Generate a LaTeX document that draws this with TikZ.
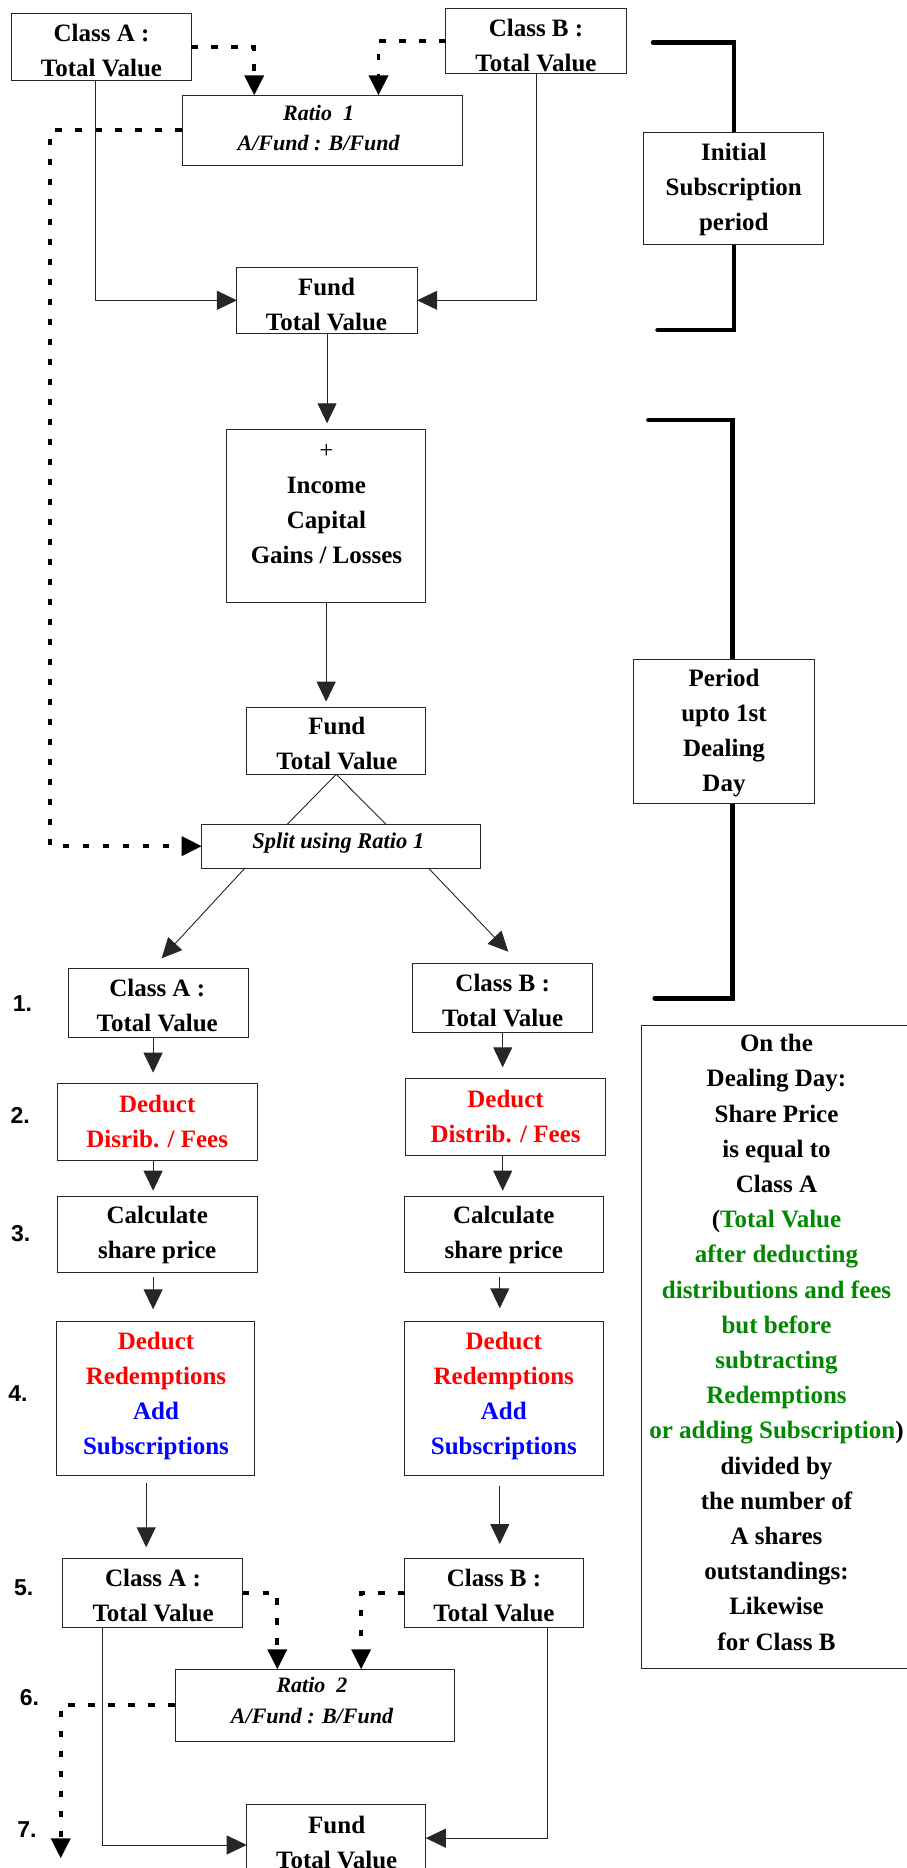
\documentclass[tikz,border=0pt]{standalone}
\usepackage{fontspec}
\setmainfont{Liberation Serif}
\setsansfont{Liberation Sans}
\usetikzlibrary{arrows.meta,calc}
\definecolor{dgreen}{RGB}{0,136,0}
\definecolor{dred}{RGB}{255,0,0}
\definecolor{dblue}{RGB}{0,0,255}
\begin{document}
\begin{tikzpicture}[x=1pt,y=-1pt,
  box/.style={draw=black!85, line width=1pt, fill=white, anchor=north west, inner sep=0pt, outer sep=0pt},
  txt/.style={font=\fontsize{25}{35}\selectfont\bfseries, align=center, inner sep=0pt},
  itxt/.style={font=\fontsize{22}{30.5}\selectfont\bfseries\itshape, align=center, inner sep=0pt},
  num/.style={font=\fontsize{23}{23}\selectfont\sffamily\bfseries, inner sep=0pt},
  con/.style={line width=0.9pt, draw=black!85},
  arr/.style={-{Triangle[length=20pt,width=19pt]}},
  dots/.style={line width=3.8pt, dash pattern=on 6.7pt off 13.3pt},
  brk/.style={line width=4.5pt, line cap=round, line join=miter}
]
\useasboundingbox (0,0) rectangle (906,1868);

% brackets
\draw[brk] (653,42.7) -- (733.8,42.7) -- (733.8,330) -- (657.5,330);
\draw[brk] (648.3,420) -- (732.7,420) -- (732.7,998.3) -- (654.7,998.3);

% boxes
\node[box, minimum width=179.7pt, minimum height=67pt] (a0) at (11.6,13.3) {};
\node[box, minimum width=180.8pt, minimum height=65pt] (b0) at (445.5,8.3) {};
\node[box, minimum width=280.2pt, minimum height=70pt] (r1) at (182,95.3) {};
\node[box, minimum width=179.7pt, minimum height=112pt] (init) at (643.7,132.3) {};
\node[box, minimum width=180.3pt, minimum height=66pt] (f1) at (236.9,267.3) {};
\node[box, minimum width=199.3pt, minimum height=173pt] (inc) at (226.5,429.3) {};
\node[box, minimum width=180.8pt, minimum height=144pt] (per) at (633.3,659) {};
\node[box, minimum width=179.1pt, minimum height=67pt] (f2) at (246.7,707.3) {};
\node[box, minimum width=279pt, minimum height=43.7pt] (sp) at (201.7,824.3) {};
\node[box, minimum width=180.3pt, minimum height=69pt] (a1) at (68.2,968.3) {};
\node[box, minimum width=180.3pt, minimum height=69pt] (b1) at (412.5,963.3) {};
\node[box, minimum width=199.3pt, minimum height=77pt] (a2) at (57.8,1083.7) {};
\node[box, minimum width=199.4pt, minimum height=77pt] (b2) at (405.6,1078.7) {};
\node[box, minimum width=199.3pt, minimum height=76.7pt] (a3) at (57.8,1196) {};
\node[box, minimum width=198.7pt, minimum height=76.7pt] (b3) at (404.5,1196) {};
\node[box, minimum width=198.8pt, minimum height=154pt] (a4) at (56,1321) {};
\node[box, minimum width=198.7pt, minimum height=154pt] (b4) at (404.5,1321) {};
\node[box, minimum width=180.3pt, minimum height=68.6pt] (a5) at (62.4,1558.7) {};
\node[box, minimum width=178.5pt, minimum height=68.6pt] (b5) at (404.5,1558.7) {};
\node[box, minimum width=279.1pt, minimum height=71.7pt] (r2) at (175.1,1669.3) {};
\node[box, minimum width=179.1pt, minimum height=67.7pt] (f3) at (246.7,1804.3) {};
\node[box, minimum width=290pt, minimum height=643.3pt] (deal) at (641.7,1025) {};

% texts
\node[txt] (a0t) at (101.5,51) {Class A :\\Total Value};
\node[txt] (b0t) at (536,45.4) {Class B :\\Total Value};
\node[itxt] (r1t) at (318.6,128) {Ratio\ \ 1\\A/Fund : B/Fund};
\node[txt] (initt) at (733.8,189.2) {Initial\\Subscription\\period};
\node[txt] (f1t) at (326.5,304.9) {Fund\\Total Value};
\node[txt] (inct) at (326.5,504.5) {{\mdseries +}\\Income\\Capital\\Gains / Losses};
\node[txt] (pert) at (724,733) {Period\\upto 1st\\Dealing\\Day};
\node[txt] (f2t) at (336.9,744) {Fund\\Total Value};
\node[itxt, font=\fontsize{22.5}{30}\selectfont\bfseries\itshape] (spt) at (338.3,842.9) {Split using Ratio 1};
\node[txt] (a1t) at (157.2,1005.7) {Class A :\\Total Value};
\node[txt] (b1t) at (502.7,1001) {Class B :\\Total Value};
\node[txt, text=dred] (a2t) at (157.2,1121.3) {Deduct\\Disrib. / Fees};
\node[txt, text=dred] (b2t) at (505.6,1116.3) {Deduct\\Distrib. / Fees};
\node[txt] (a3t) at (157.2,1235.4) {Calculate\\share price};
\node[txt] (b3t) at (503.8,1235.4) {Calculate\\share price};
\node[txt] (a4t) at (156,1396.3) {\textcolor{dred}{Deduct}\\\textcolor{dred}{Redemptions}\\\textcolor{dblue}{Add}\\\textcolor{dblue}{Subscriptions}};
\node[txt] (b4t) at (503.8,1396.3) {\textcolor{dred}{Deduct}\\\textcolor{dred}{Redemptions}\\\textcolor{dblue}{Add}\\\textcolor{dblue}{Subscriptions}};
\node[txt] (a5t) at (153.1,1595.7) {Class A :\\Total Value};
\node[txt] (b5t) at (494,1595.7) {Class B :\\Total Value};
\node[itxt] (r2t) at (312,1700.5) {Ratio\ \ 2\\A/Fund : B/Fund};
\node[txt] (f3t) at (336.7,1842.3) {Fund\\Total Value};
\node[txt, font=\fontsize{25}{35.2}\selectfont\bfseries] (dealt) at (776.5,1342.3) {On the\\Dealing Day:\\Share Price\\is equal to\\Class A\\(\textcolor{dgreen}{Total Value}\\\textcolor{dgreen}{after deducting}\\\textcolor{dgreen}{distributions and fees}\\\textcolor{dgreen}{but before}\\\textcolor{dgreen}{subtracting}\\\textcolor{dgreen}{Redemptions}\\\textcolor{dgreen}{or adding Subscription})\\divided by\\the number of\\A shares\\outstandings:\\Likewise\\for Class B};

% step numbers
\node[num] (n1) at (22.5,1003.3) {1.};
\node[num] (n2) at (20.2,1115) {2.};
\node[num] (n3) at (20.8,1233.3) {3.};
\node[num] (n4) at (18,1393.3) {4.};
\node[num] (n5) at (23.7,1587.5) {5.};
\node[num] (n6) at (29.5,1697.7) {6.};
\node[num] (n7) at (27,1830) {7.};

% helper columns
\coordinate (dA) at (254.2,0);
\coordinate (dB) at (378.5,0);
\coordinate (lx) at (50.3,0);
\coordinate (sA) at (95.3,0);
\coordinate (sB) at (536.2,0);
\coordinate (cA) at (153.1,0);
\coordinate (cA2) at (146.2,0);
\coordinate (cB) at (502.7,0);
\coordinate (cB2) at (499.8,0);
\coordinate (eA) at (277.3,0);
\coordinate (eB) at (361.1,0);
\coordinate (sA2) at (102.9,0);
\coordinate (sB2) at (547.8,0);
\coordinate (end7) at (60.7,1858.3);

% top part
\draw[dots,arr] (a0.east) -| (r1.north -| dA);
\draw[dots,arr] (b0.west) -| (r1.north -| dB);
\draw[dots,arr] (r1.west) -| (lx |- sp.west) -- (sp.west);
\draw[con,arr] (a0.south -| sA) |- (f1.west);
\draw[con,arr] (b0.south -| sB) |- (f1.east);
\draw[con,arr] (f1.south) -- ($(f1.south |- inc.north)+(0,-6)$);
\draw[con,arr] (inc.south) -- ($(inc.south |- f2.north)+(0,-5.6)$);
\draw[con] (f2.south) -- ([xshift=85.5pt]sp.north west);
\draw[con] (f2.south) -- ([xshift=184.3pt]sp.north west);
\draw[con,arr] ([xshift=43.3pt]sp.south west) -- ($(a1.north)+(3.3,-10)$);
\draw[con,arr] ([xshift=226.6pt]sp.south west) -- ($(b1.north)+(5.65,-11.6)$);

% class columns
\draw[con,arr] (a1.south -| cA) -- ($(a2.north -| cA)+(0,-11)$);
\draw[con,arr] (a2.south -| cA) -- ($(a3.north -| cA)+(0,-5.3)$);
\draw[con,arr] ($(a3.south -| cA)+(0,4)$) -- ($(a4.north -| cA)+(0,-11.7)$);
\draw[con,arr] ($(a4.south -| cA2)+(0,8.3)$) -- ($(a5.north -| cA2)+(0,-11.4)$);
\draw[con,arr] (b1.south -| cB) -- ($(b2.north -| cB)+(0,-11.4)$);
\draw[con,arr] (b2.south -| cB) -- ($(b3.north -| cB)+(0,-5.3)$);
\draw[con,arr] ($(b3.south -| cB2)+(0,4)$) -- ($(b4.north -| cB2)+(0,-12.7)$);
\draw[con,arr] ($(b4.south -| cB2)+(0,10.7)$) -- ($(b5.north -| cB2)+(0,-14.7)$);

% bottom part
\draw[dots,arr] (a5.east) -| (r2.north -| eA);
\draw[dots,arr] (b5.west) -| (r2.north -| eB);
\draw[dots,arr] (r2.west) -| (end7);
\draw[con,arr] (a5.south -| sA2) |- ($(f3.west)+(0,6.8)$);
\draw[con,arr] (b5.south -| sB2) |- (f3.east);
\end{tikzpicture}
\end{document}
